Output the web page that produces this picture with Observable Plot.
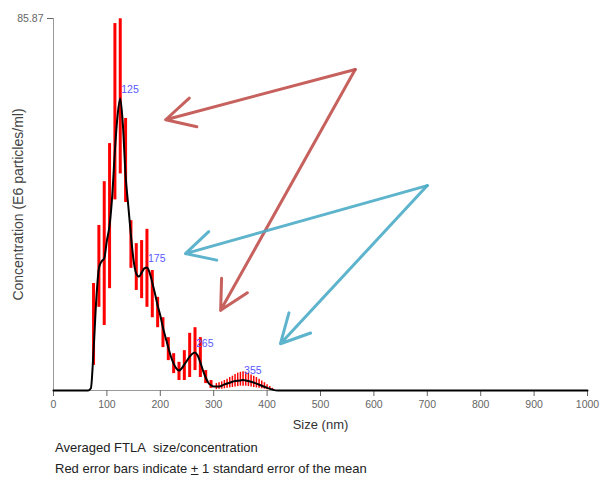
<!DOCTYPE html>
<html>
<head>
<meta charset="utf-8">
<script src="https://cdn.jsdelivr.net/npm/d3@7"></script>
<script src="https://cdn.jsdelivr.net/npm/@observablehq/plot@0.6"></script>
<style>
  body { margin: 0; background: #fff; }
  #caption { font-family: "Liberation Sans", Arial, sans-serif; font-size: 13px; color: #222; margin-left: 55px; line-height: 21px; }
</style>
</head>
<body>
<div id="chart"></div>
<div id="caption">
  <div>Averaged FTLA&nbsp; size/concentration</div>
  <div>Red error bars indicate <u>+</u> 1 standard error of the mean</div>
</div>
<script>
// Averaged concentration curve (size nm, concentration E6 particles/ml)
const lineNm  = [0, 65, 70, 75, 80, 85, 90, 95, 100, 105, 110, 115, 120, 125, 130, 135, 140, 145, 150, 155, 160, 165, 170, 175, 180, 185, 190, 195, 200, 205, 210, 215, 220, 225, 230, 235, 240, 245, 250, 255, 260, 265, 270, 275, 280, 285, 290, 295, 300, 310, 320, 330, 340, 350, 355, 360, 370, 380, 390, 400, 410, 420, 1000];
const lineVal = [0, 0, 0.5, 9.2, 20.8, 28.2, 29.8, 30.5, 34.6, 38.1, 45.0, 55.4, 63.5, 67.4, 61.2, 49.6, 42.7, 35.8, 30.0, 27.0, 26.3, 27.2, 28.2, 28.4, 27.2, 24.9, 22.4, 19.6, 17.3, 14.5, 12.2, 9.9, 7.8, 6.2, 5.1, 4.6, 5.1, 6.0, 6.9, 7.8, 8.5, 8.8, 8.1, 6.5, 4.6, 3.0, 1.8, 1.2, 0.9, 0.9, 1.4, 1.8, 2.2, 2.3, 2.4, 2.3, 2.0, 1.6, 1.1, 0.6, 0.2, 0, 0];

// Error bars (±1 SE): main peak region
const barNm = [75, 85, 95, 105, 115, 125, 135, 145, 155, 165, 175, 185, 195, 205, 215, 225, 235, 245, 255, 265, 275, 285, 295];
const barLo = [5.8, 19.2, 15.0, 23.5, 44.0, 50.0, 43.4, 28.2, 23.1, 21.2, 19.2, 16.8, 14.5, 9.9, 6.9, 3.9, 2.3, 2.3, 3.0, 4.6, 3.0, 1.6, 0.5];
const barHi = [24.7, 38.1, 48.2, 57.0, 84.7, 85.8, 62.8, 39.2, 33.9, 34.6, 37.2, 27.7, 21.5, 16.8, 12.2, 8.5, 6.5, 9.2, 13.2, 14.5, 12.2, 4.6, 2.3];

// Error bars: small bump near 355 nm
const bumpNm = [305, 310, 315, 320, 325, 330, 335, 340, 345, 350, 355, 360, 365, 370, 375, 380, 385, 390, 395, 400, 405, 410];
const bumpLo = [0.2, 0.3, 0.3, 0.4, 0.5, 0.6, 0.7, 0.8, 0.9, 1.0, 1.0, 1.0, 0.9, 0.8, 0.7, 0.6, 0.5, 0.4, 0.3, 0.2, 0.1, 0.0];
const bumpHi = [1.6, 1.8, 2.0, 2.3, 2.6, 3.0, 3.3, 3.7, 4.0, 4.2, 4.3, 4.2, 4.0, 3.6, 3.3, 3.0, 2.6, 2.2, 1.8, 1.3, 0.9, 0.5];

// Peak labels
const peakNm  = [125, 175, 265, 355];
const peakVal = [67.4, 28.4, 8.8, 2.4];

// Hand-drawn annotation arrows (data coordinates)
const arrowGroup   = ["a", "a", "b", "b"];
const arrowFromNm  = [565, 565, 700, 700];
const arrowFromVal = [74.1, 74.1, 47.3, 47.3];
const arrowToNm    = [210, 313, 247, 425];
const arrowToVal   = [62.5, 18.5, 31.6, 10.8];

// Axis ticks
const xTicks = [0, 100, 200, 300, 400, 500, 600, 700, 800, 900, 1000];
const yMax = 85.87;
const yTicks = [85.87];

const lineData = lineNm.map((x, i) => ({x, y: lineVal[i]}));
const barData = barNm.map((x, i) => ({x, lo: barLo[i], hi: barHi[i]}));
const bumpData = bumpNm.map((x, i) => ({x, lo: bumpLo[i], hi: bumpHi[i]}));
const peakData = peakNm.map((x, i) => ({x, y: peakVal[i], label: String(x)}));
const arrowData = arrowGroup.map((g, i) => ({g, x1: arrowFromNm[i], y1: arrowFromVal[i], x2: arrowToNm[i], y2: arrowToVal[i]}));

const plot = Plot.plot({
  width: 601,
  height: 437,
  marginLeft: 53,
  marginRight: 14,
  marginTop: 18,
  marginBottom: 47,
  style: {fontFamily: "'Liberation Sans', Arial, sans-serif", fontSize: "10px", color: "#555", background: "#fff"},
  x: {domain: [0, 1000]},
  y: {domain: [0, yMax]},
  marks: [
    Plot.ruleX([0], {stroke: "#999", strokeWidth: 1}),
    Plot.ruleY([0], {stroke: "#999", strokeWidth: 1}),
    Plot.axisX({ticks: xTicks, tickSize: 6, tickPadding: 4, label: null, color: "#666", fontSize: 10.5, tickFormat: d => String(d)}),
    Plot.axisY({ticks: yTicks, tickSize: 6, tickPadding: 4, label: null, color: "#666", fontSize: 10.5, tickFormat: d => d.toFixed(2)}),
    Plot.ruleX(barData, {x: "x", y1: "lo", y2: "hi", stroke: "#ff0000", strokeWidth: 3}),
    Plot.ruleX(bumpData, {x: "x", y1: "lo", y2: "hi", stroke: "#ff0000", strokeWidth: 1.5}),
    Plot.line(lineData, {x: "x", y: "y", stroke: "#000", strokeWidth: 2, curve: "monotone-x"}),
    Plot.text(peakData, {x: "x", y: "y", text: "label", textAnchor: "start", dx: 1, dy: -9, fill: "#5a5aff", fontSize: 10.5}),
    Plot.text(["Concentration (E6 particles/ml)"], {frameAnchor: "left", textAnchor: "middle", rotate: -90, dx: -35, fill: "#444", fontSize: 14}),
    Plot.text(["Size (nm)"], {frameAnchor: "bottom", textAnchor: "middle", dy: 38, fill: "#333", fontSize: 13}),
    Plot.arrow(arrowData.filter(d => d.g === "a"), {x1: "x1", y1: "y1", x2: "x2", y2: "y2", stroke: "#c0504d", strokeWidth: 3, headLength: 16, headAngle: 55, strokeLinecap: "round", strokeOpacity: 0.9}),
    Plot.arrow(arrowData.filter(d => d.g === "b"), {x1: "x1", y1: "y1", x2: "x2", y2: "y2", stroke: "#4bacc6", strokeWidth: 3, headLength: 16, headAngle: 55, strokeLinecap: "round", strokeOpacity: 0.9})
  ]
});
document.getElementById("chart").appendChild(plot);
</script>
</body>
</html>
